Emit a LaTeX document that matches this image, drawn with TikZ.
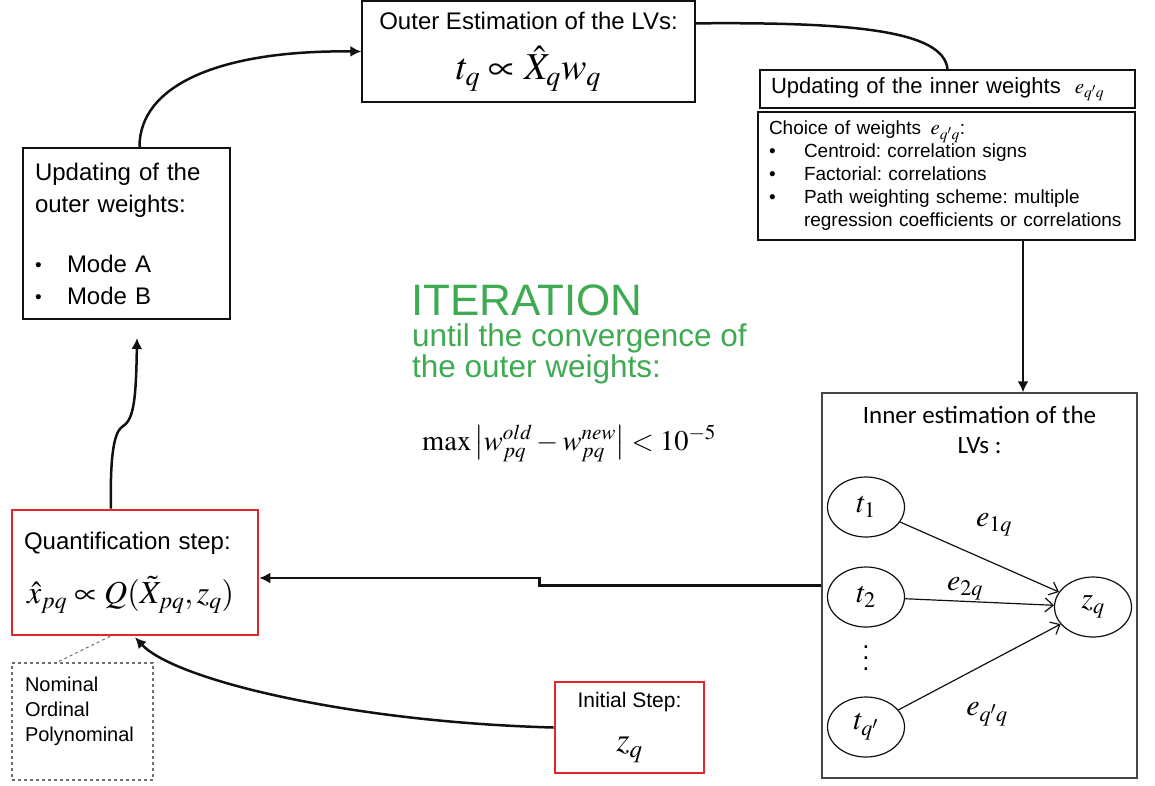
\documentclass[tikz,border=0pt]{standalone}
\usepackage{mathptmx}
\usepackage[no-math]{fontspec}
\setmainfont{Liberation Sans}
\newfontfamily\calibri{Carlito}
\usetikzlibrary{arrows.meta,positioning,calc,shapes.geometric}
\definecolor{ink}{HTML}{111111}
\definecolor{frame}{HTML}{454545}
\definecolor{stepred}{HTML}{E0282C}
\definecolor{optgrey}{HTML}{6E6E6E}
\definecolor{itergreen}{HTML}{3EAA52}

\frenchspacing
\newcommand{\fsz}[2]{\fontsize{#1}{#2}\selectfont}
\newcommand{\bul}[1][35pt]{\makebox[#1][l]{\raisebox{0.5pt}{\fsz{19}{19}\textbullet}}}

\begin{document}
\begin{tikzpicture}[
  x=1pt, y=-1pt,
  font=\fsz{24}{32},
  box/.style={draw=ink, line width=1.3pt, fill=white, inner sep=0pt},
  redbox/.style={box, draw=stepred, line width=2.6pt},
  optbox/.style={draw=optgrey, line width=1.2pt, dashed, inner sep=0pt},
  lv/.style={ellipse, draw=ink, line width=1.2pt, minimum width=77pt,
             minimum height=60pt, inner sep=0pt, font=\fsz{30}{30}},
  wt/.style={inner sep=0pt, font=\fsz{30}{30}},
  iter/.style={text=itergreen, anchor=base west, inner sep=0pt},
  flow/.style={-{Latex[length=11pt,width=11pt]}, draw=ink, line width=2.5pt},
  link/.style={-{Straight Barb[length=8pt,width=14pt]}, draw=ink, line width=1.2pt}
]
\useasboundingbox (0,0) rectangle (1155,785);

% the loop
\node[box, minimum width=333pt, minimum height=101pt, align=center] (outer) at (528.5,51.5)
  {Outer Estimation of the LVs:\\[16pt]{\fsz{38}{38}$t_q\propto\hat{X}_q w_q$}};

\node[box, minimum width=375pt, minimum height=38pt, text width=353pt, align=left,
      font=\fsz{22}{26}] (inw) at (947.5,89)
  {Updating of the inner weights\hspace{14pt}{\fsz{21}{21}$e_{q'q}$}};

\node[box, minimum width=377pt, minimum height=128pt, text width=355pt, align=left,
      font=\fsz{19}{23}] (choice) at (946.5,176)
  {Choice of weights \,{\fsz{21}{21}$e_{q'q}$}:\\
   \bul Centroid: correlation signs\\
   \bul Factorial: correlations\\
   \bul Path weighting scheme: multiple\\
   \hspace*{35pt}regression coefficients or correlations};

\node[box, minimum width=207pt, minimum height=171pt, text width=183pt, align=left] (outw) at (126.5,233.5)
  {Updating of the\\outer weights:\\[28pt]\bul[32pt]Mode A\\\bul[32pt]Mode B};

\node[redbox, minimum width=246pt, minimum height=125pt, text width=222pt, align=left] (quant) at (135,572.5)
  {Quantification step:\\[22pt]\hspace*{3pt}{\fsz{32}{32}$\hat{x}_{pq}\propto Q(\tilde{X}_{pq},z_q)$}};

\node[optbox, minimum width=141pt, minimum height=117pt, text width=115pt, align=left,
      font=\fsz{20}{25}] (opts) at (82.5,721.5)
  {Nominal\\Ordinal\\Polynominal\\\mbox{}};

\node[redbox, minimum width=149pt, minimum height=91pt, align=center, font=\fsz{21}{26}] (init) at (629.5,727.5)
  {Initial Step:\\[18pt]{\fsz{34}{34}$z_q$}};

% inner estimation
\node[box, draw=frame, minimum width=315pt, minimum height=385pt] (inner) at (979.5,585.5) {};
\node[font=\calibri\fsz{25}{30}, align=center, anchor=north] (innertitle) at (979.5,403)
  {Inner estimation of the\\LVs :};

\node[lv] (t1) at (866,507) {$t_1$};
\node[lv] (t2) at (866,597) {$t_2$};
\node[lv] (tq) at (866,727) {$t_{q'}$};
\node[lv] (zq) at (1093,607) {$z_q$};
\node[inner sep=0pt, font=\fsz{26}{11}, align=center] (dots) at (866,658) {.\\.\\.};

\foreach \a in {t1, t2, tq}
  \draw[link] (\a) -- (zq);

\node[wt] (e1) at (994,525) {$e_{1q}$};
\node[wt] (e2) at (965,589) {$e_{2q}$};
\node[wt] (e3) at (987,714) {$e_{q'q}$};

% ITERATION note
\node[iter, font=\fsz{44}{44}] (iteration) at (411,315) {ITERATION};
\node[iter, font=\fsz{31.5}{31.5}] (until) at (412,346) {until the convergence of};
\node[iter, font=\fsz{31.5}{31.5}] (outerwt) at (412,377) {the outer weights:};
\node[anchor=base west, inner sep=0pt, font=\fsz{28.5}{28.5}] (crit) at (422,450)
  {$\max\left|w^{old}_{pq}-w^{new}_{pq}\right|<10^{-5}$};

% connectors
\coordinate (drop) at (1023,0);
\coordinate (tip) at (137,338);

\draw[flow] ($(outw.north)+(13,0)$) .. controls (139,85) and (220,50) .. (outer.west);
\draw[ink, line width=2.5pt] ($(outer.north east)+(0,23)$) .. controls (850,22) and (944,30) .. (inw.north);
\draw[flow] (choice.south -| drop) -- (inner.north -| drop);
\draw[flow] (inner.west) -- ++(-282,0) |- ($(quant.east)+(0,5.5)$);
\draw[flow] (init.west) .. controls (350,722) and (175,680) .. ($(quant.south)+(0,1)$);
\draw[flow] ($(quant.north)+(-24,0)$) .. controls (110,462) and (113,433) .. (122,427)
  .. controls (133,420) and (136,405) .. (tip);
\draw[optgrey, line width=1pt, dashed] ($(quant.south west)!0.4!(quant.south east)$)
  -- ($(opts.north west)!0.32!(opts.north east)$);

\end{tikzpicture}
\end{document}
